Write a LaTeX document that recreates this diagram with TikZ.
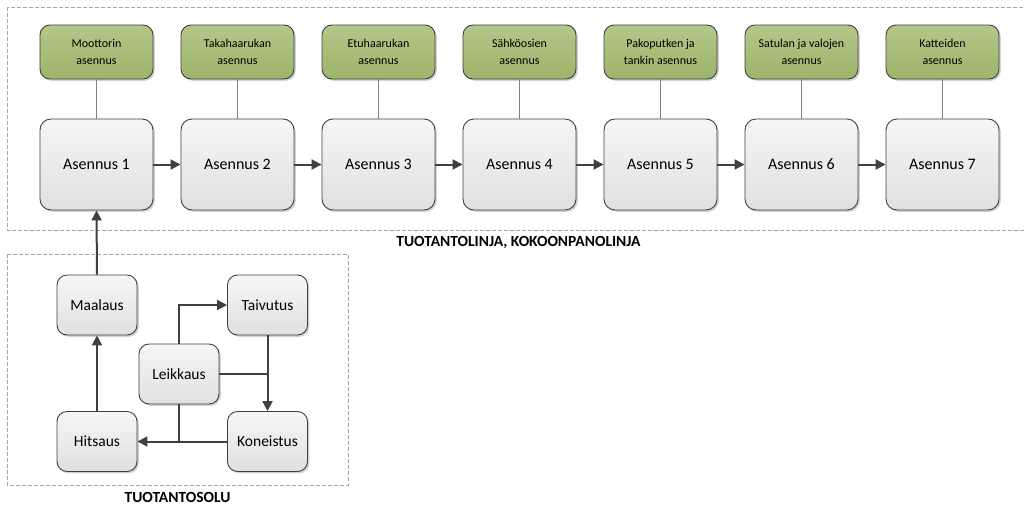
\documentclass[tikz,border=0pt]{standalone}
\usepackage{fontspec}
\setmainfont{Carlito}
\usetikzlibrary{arrows.meta,shadows}
\definecolor{edge}{HTML}{404040}
\definecolor{greentop}{HTML}{B3C78A}
\definecolor{greenbot}{HTML}{9DB469}
\definecolor{graytop}{HTML}{F6F6F6}
\definecolor{graybot}{HTML}{E0E0E0}
\definecolor{frame}{HTML}{A6A6A6}
\tikzset{
  boxshadow/.style={drop shadow={shadow xshift=1.8pt,shadow yshift=-1.8pt,fill=black,opacity=0.18}},
  station/.style={draw=edge,line width=0.9pt,rounded corners=11pt,top color=graytop,bottom color=graybot,
    minimum width=113pt,minimum height=91pt,inner sep=0pt,font=\fontsize{16}{18}\selectfont,boxshadow},
  task/.style={draw=edge,line width=0.9pt,rounded corners=10pt,top color=greentop,bottom color=greenbot,
    minimum width=113pt,minimum height=54pt,inner sep=0pt,align=center,
    font=\fontsize{12}{16.5}\selectfont,boxshadow},
  cell/.style={draw=edge,line width=0.9pt,rounded corners=10pt,top color=graytop,bottom color=graybot,
    minimum width=80pt,minimum height=60pt,inner sep=0pt,font=\fontsize{15.5}{18}\selectfont,boxshadow},
  flow/.style={draw=edge,line width=2pt,-{Triangle[length=10pt,width=10pt]}},
  joint/.style={draw=edge,line width=2pt},
  link/.style={draw=gray,line width=0.9pt},
  area/.style={draw=frame,line width=1pt,dash pattern=on 4pt off 2pt},
  caption/.style={font=\bfseries\fontsize{15.5}{18}\selectfont,inner sep=0pt}
}
\begin{document}
\begin{tikzpicture}[x=1pt,y=-1pt]
\useasboundingbox (0,0) rectangle (1024,506);
\fill[white] (0,0) rectangle (1024,506);

% dashed areas
\begin{scope}
\clip (0,0) rectangle (1024,506);
\draw[area] (7,7) rectangle (1030,230);
\end{scope}
\draw[area] (7,254) rectangle (348,485);
\node[caption] (linecap) at (518.5,242) {TUOTANTOLINJA, KOKOONPANOLINJA};
\node[caption] (cellcap) at (177.5,497) {TUOTANTOSOLU};

% assembly line
\foreach \i/\t in {1/{Moottorin\\asennus},2/{Takahaarukan\\asennus},3/{Etuhaarukan\\asennus},
                   4/{Sähköosien\\asennus},5/{Pakoputken ja\\tankin asennus},
                   6/{Satulan ja valojen\\asennus},7/{Katteiden\\asennus}}{
  \node[station] (s\i) at ({96.5+141*(\i-1)},164.5) {Asennus \i};
  \node[task] (t\i) at ({96.5+141*(\i-1)},52) {\t};
  \draw[link] (t\i.south) -- (s\i.north);
}
\foreach \a/\b in {1/2,2/3,3/4,4/5,5/6,6/7}{
  \draw[flow] (s\a.east) -- (s\b.west);
}

% production cell
\node[cell] (maal) at (97,305) {Maalaus};
\node[cell] (taiv) at (267.5,305) {Taivutus};
\node[cell] (leik) at (179,374) {Leikkaus};
\node[cell] (hits) at (97,441.5) {Hitsaus};
\node[cell] (kone) at (267.5,441.5) {Koneistus};

\draw[flow] (leik.north) |- (taiv.west);
\draw[joint] (leik.east) -- (leik.east -| taiv.south);
\draw[flow] (taiv.south) -- (kone.north);
\draw[flow] (leik.south) |- (hits.east);
\draw[joint] (kone.west) -- (kone.west -| leik.south);
\draw[flow] (hits.north) -- (maal.south);
\draw[flow] (maal.north) -- (s1.south);
\end{tikzpicture}
\end{document}
